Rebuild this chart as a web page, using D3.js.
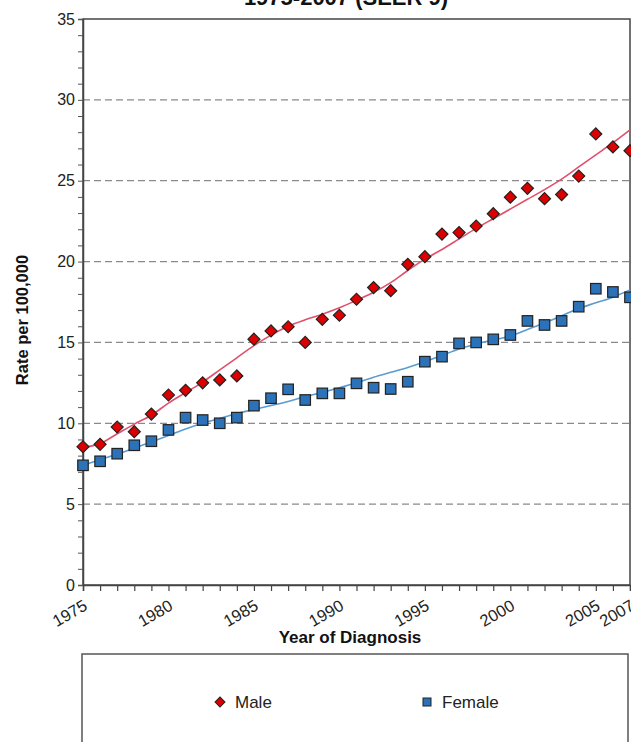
<!DOCTYPE html>
<html><head><meta charset="utf-8">
<script src="https://cdn.jsdelivr.net/npm/d3@7"></script>
<style>
html,body{margin:0;padding:0;background:#fff;}
svg{display:block;font-family:"Liberation Sans",Arial,sans-serif;}
</style></head>
<body>
<svg id="chart" width="631" height="742"></svg>
<script>
const years = [1975,1976,1977,1978,1979,1980,1981,1982,1983,1984,1985,1986,1987,1988,1989,1990,1991,1992,1993,1994,1995,1996,1997,1998,1999,2000,2001,2002,2003,2004,2005,2006,2007];
const maleRate = [8.55,8.7,9.77,9.48,10.57,11.75,12.04,12.5,12.68,12.93,15.2,15.71,15.97,15.0,16.43,16.68,17.67,18.39,18.2,19.83,20.3,21.7,21.79,22.2,22.96,23.98,24.53,23.89,24.14,25.29,27.89,27.09,26.86];
const femaleRate = [7.4,7.65,8.12,8.64,8.89,9.59,10.35,10.2,10.0,10.35,11.09,11.55,12.1,11.44,11.85,11.85,12.47,12.2,12.12,12.57,13.81,14.12,14.94,15.0,15.19,15.46,16.33,16.08,16.33,17.21,18.32,18.12,17.79];
const maleFit = [8.5,8.75,9.35,9.95,10.5,11.25,11.9,12.55,13.3,14.05,14.8,15.45,16.0,16.4,16.75,17.15,17.6,18.1,18.7,19.45,20.15,20.75,21.4,22.05,22.65,23.25,23.85,24.45,25.1,25.85,26.6,27.35,28.15];
const femaleFit = [7.4,7.75,8.1,8.45,8.85,9.25,9.65,10.0,10.3,10.6,10.85,11.1,11.35,11.65,11.9,12.2,12.5,12.85,13.15,13.45,13.8,14.2,14.6,14.9,15.15,15.4,15.8,16.2,16.65,17.1,17.45,17.8,18.25];
const yTicks = [0,5,10,15,20,25,30,35];
const xTickLabels = [1975,1980,1985,1990,1995,2000,2005,2007];
const seriesNames = ["Male","Female"];
const titleText = "1975-2007 (SEER 9)";

const svg = d3.select("#chart");
const L = 83, R = 630, T = 19, B = 585;
const x = d3.scaleLinear().domain([1975,2007]).range([L, R]);
const y = d3.scaleLinear().domain([0,35]).range([B, T]);

const red = "#dc0000", blue = "#2b72b8";
const redLine = "#e0506a", blueLine = "#5b9bd0";

// title (cut off at top, as in the reference)
svg.append("text").attr("x", 346).attr("y", 5).attr("text-anchor","middle")
  .attr("font-size", 22).attr("font-weight","bold").attr("fill","#111").text(titleText);

// grid
svg.append("g").selectAll("line").data(yTicks.filter(d => d > 0 && d < 35)).join("line")
  .attr("x1", L).attr("x2", R).attr("y1", d => y(d)).attr("y2", d => y(d))
  .attr("stroke","#8a8a8a").attr("stroke-width",1.3).attr("stroke-dasharray","7,4");

// plot border
svg.append("rect").attr("x", L).attr("y", T).attr("width", R - L).attr("height", B - T)
  .attr("fill","none").attr("stroke","#444").attr("stroke-width",1.5);

// y axis
const yAxis = d3.axisLeft(y).tickValues(d3.range(0,36,1)).tickSize(5)
  .tickFormat(d => yTicks.includes(d) ? d : "");
const gy = svg.append("g").attr("transform",`translate(${L},0)`).call(yAxis);
gy.select(".domain").attr("stroke","#444").attr("stroke-width",1.5);
gy.selectAll(".tick line").attr("stroke","#555");
gy.selectAll(".tick text").attr("font-size",16).attr("fill","#222").attr("x",-8)
  .attr("font-family",'"Liberation Sans",Arial,sans-serif');

// x axis
const xAxis = d3.axisBottom(x).tickValues(years).tickSize(6)
  .tickFormat(d => xTickLabels.includes(d) ? d : "");
const gx = svg.append("g").attr("transform",`translate(0,${B})`).call(xAxis);
gx.select(".domain").attr("stroke","#444").attr("stroke-width",1.5);
gx.selectAll(".tick line").attr("stroke","#444").attr("stroke-width",1.2);
gx.selectAll(".tick text").attr("font-size",16.5).attr("fill","#222")
  .attr("font-family",'"Liberation Sans",Arial,sans-serif')
  .attr("text-anchor","end").attr("y",0).attr("dy",0)
  .attr("transform","translate(5,24) rotate(-30)");

// axis titles
svg.append("text").attr("x", 350).attr("y", 643).attr("text-anchor","middle")
  .attr("font-size",17).attr("font-weight","bold").attr("fill","#111").text("Year of Diagnosis");
svg.append("text").attr("transform","translate(28,320) rotate(-90)").attr("text-anchor","middle")
  .attr("font-size",16.5).attr("font-weight","bold").attr("fill","#111").text("Rate per 100,000");

// fit lines
const line = d3.line().x((d,i) => x(years[i])).y(d => y(d)).curve(d3.curveCatmullRom);
svg.append("path").attr("d", line(maleFit)).attr("fill","none").attr("stroke",redLine).attr("stroke-width",1.6);
svg.append("path").attr("d", line(femaleFit)).attr("fill","none").attr("stroke",blueLine).attr("stroke-width",1.6);

// markers
const ds = 8.5;
svg.append("g").selectAll("rect").data(maleRate).join("rect")
  .attr("x", -ds/2).attr("y", -ds/2).attr("width", ds).attr("height", ds)
  .attr("transform",(d,i) => `translate(${x(years[i])},${y(d)}) rotate(45)`)
  .attr("fill", red).attr("stroke","#222").attr("stroke-width",1.2);
const ss = 10.5;
svg.append("g").selectAll("rect").data(femaleRate).join("rect")
  .attr("x",(d,i) => x(years[i]) - ss/2).attr("y", d => y(d) - ss/2)
  .attr("width", ss).attr("height", ss)
  .attr("fill", blue).attr("stroke","#222").attr("stroke-width",1.2);

// legend
svg.append("rect").attr("x", 82).attr("y", 654).attr("width", 546).attr("height", 100)
  .attr("fill","#fff").attr("stroke","#555").attr("stroke-width",1.5);
const lg = svg.append("g");
const ld = 7;
lg.append("rect").attr("x",-ld/2).attr("y",-ld/2).attr("width",ld).attr("height",ld)
  .attr("transform","translate(220,702) rotate(45)").attr("fill",red).attr("stroke","#222").attr("stroke-width",1);
lg.append("text").attr("x",235).attr("y",708).attr("font-size",17).attr("fill","#222").text(seriesNames[0]);
lg.append("rect").attr("x",423).attr("y",698).attr("width",8).attr("height",8)
  .attr("fill",blue).attr("stroke","#222").attr("stroke-width",1);
lg.append("text").attr("x",442).attr("y",708).attr("font-size",17).attr("fill","#222").text(seriesNames[1]);
</script>
</body></html>
